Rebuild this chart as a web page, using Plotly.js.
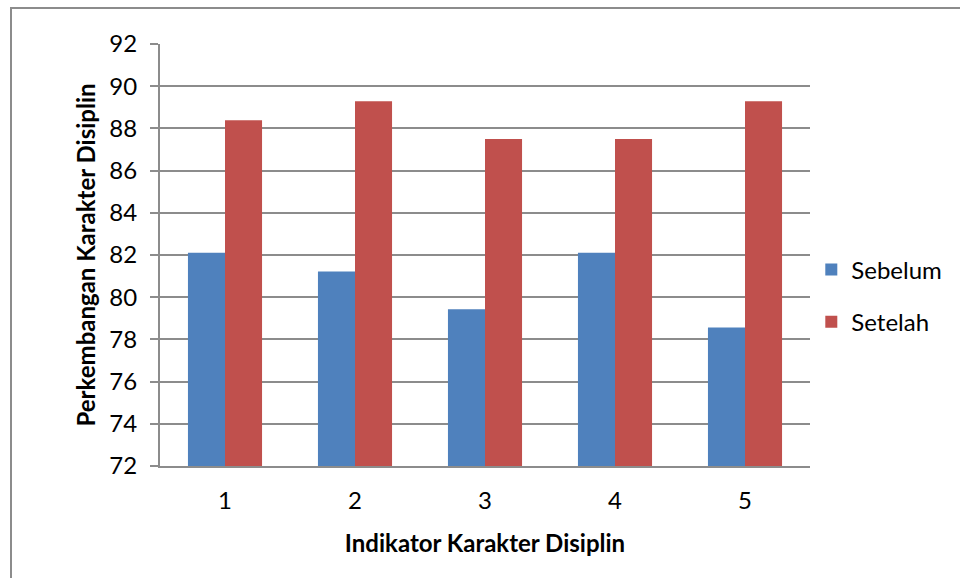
<!DOCTYPE html>
<html>
<head>
<meta charset="utf-8">
<script src="https://cdn.plot.ly/plotly-3.0.1.min.js"></script>
<style>
html,body{margin:0;padding:0;background:#fff;overflow:hidden;}
#chart{width:960px;height:578px;}
#frame{position:absolute;left:10px;top:7px;width:980px;height:620px;border:2px solid #8c8c8c;box-sizing:border-box;pointer-events:none;}
</style>
</head>
<body>
<div id="chart"></div>
<div id="frame"></div>
<script>
var categories = ["1", "2", "3", "4", "5"];
var sebelum = [82.11, 81.22, 79.43, 82.11, 78.56];
var setelah = [88.39, 89.29, 87.50, 87.50, 89.29];
var seriesNames = ["Sebelum", "Setelah"];
var yTicks = [72, 74, 76, 78, 80, 82, 84, 86, 88, 90, 92];
var baseline = 72;

var fontFam = "Lato, 'Open Sans', sans-serif";
var fs = 24;

var traces = [
  {type: "bar", name: seriesNames[0], x: categories,
   y: sebelum.map(function(v){return v - baseline;}), base: baseline,
   marker: {color: "#4F81BD"}, legendgroup: "a"},
  {type: "bar", name: seriesNames[1], x: categories,
   y: setelah.map(function(v){return v - baseline;}), base: baseline,
   marker: {color: "#C0504D"}, legendgroup: "b"}
];

var layout = {
  width: 960, height: 578,
  margin: {l: 160, r: 150, t: 44, b: 112},
  paper_bgcolor: "#fff", plot_bgcolor: "#fff",
  font: {family: fontFam, size: fs, color: "#000"},
  barmode: "group",
  bargap: 0.43, bargroupgap: 0,
  showlegend: true,
  legend: {x: 1.002, xanchor: "left", y: 0.403, yanchor: "middle",
           font: {family: fontFam, size: fs, color: "#000"},
           tracegroupgap: 18, itemwidth: 30},
  xaxis: {type: "category", showgrid: false, showline: true, linecolor: "#8c8c8c", linewidth: 2,
          ticks: "", tickfont: {size: fs}, ticklabelstandoff: 12,
          title: {text: "<b>Indikator Karakter Disiplin</b>", font: {size: fs}, standoff: 22}},
  yaxis: {range: [72, 92], tickvals: yTicks, ticktext: yTicks.map(String),
          showgrid: true, gridcolor: "#8c8c8c", gridwidth: 2,
          showline: true, linecolor: "#8c8c8c", linewidth: 2,
          ticks: "outside", ticklen: 8, tickcolor: "#8c8c8c", tickwidth: 2,
          zeroline: false, tickfont: {size: fs}, ticklabelstandoff: 8,
          title: {text: "<b>Perkembangan Karakter Disiplin</b>", font: {size: fs}, standoff: 7}}
};

Plotly.newPlot("chart", traces, layout, {displayModeBar: false, staticPlot: true});
</script>
</body>
</html>
